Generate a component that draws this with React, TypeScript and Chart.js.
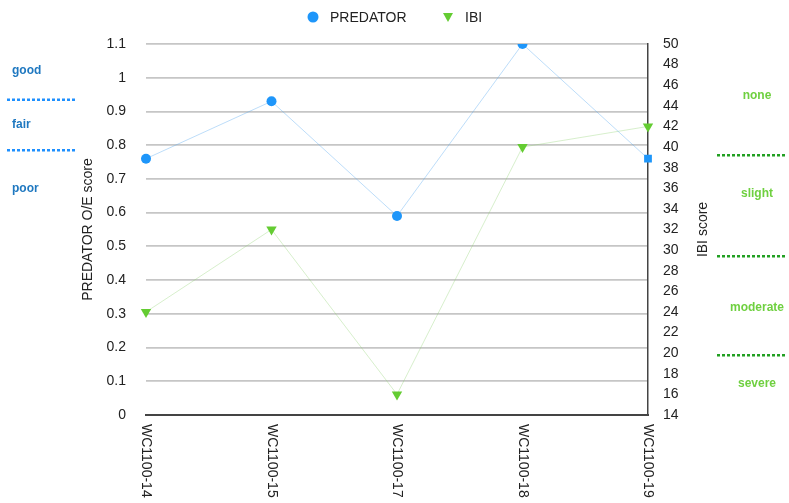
import React, { useEffect, useRef } from "react";
import { Chart, registerables } from "chart.js";

Chart.register(...registerables);

const categories = ["WC1100-14", "WC1100-15", "WC1100-17", "WC1100-18", "WC1100-19"];
const predatorScores = [0.76, 0.93, 0.59, 1.1, 0.76];
const ibiScores = [24, 32, 16, 40, 42];
const predatorBands = ["good", "fair", "poor"];
const ibiBands = ["none", "slight", "moderate", "severe"];

const FONT = "'Liberation Sans', Arial, Helvetica, sans-serif";
const BLUE = "rgb(30,150,250)";
const GREEN = "rgb(100,204,50)";

const overlayPlugin = {
  id: "overlay",
  afterDraw(chart: any) {
    const { ctx } = chart;
    const y = chart.scales.y;
    const y1 = chart.scales.y1;
    const x = chart.scales.x;
    ctx.save();

    // Legend
    ctx.font = `14px ${FONT}`;
    ctx.textBaseline = "middle";
    ctx.textAlign = "left";
    ctx.beginPath();
    ctx.arc(313, 17, 5.5, 0, Math.PI * 2);
    ctx.fillStyle = BLUE;
    ctx.fill();
    ctx.fillStyle = "#222";
    ctx.fillText("PREDATOR", 330, 18);
    ctx.beginPath();
    ctx.moveTo(443, 13);
    ctx.lineTo(453, 13);
    ctx.lineTo(448, 22);
    ctx.closePath();
    ctx.fillStyle = GREEN;
    ctx.fill();
    ctx.fillStyle = "#222";
    ctx.fillText("IBI", 465, 18);

    // X labels rotated clockwise
    ctx.font = `14px ${FONT}`;
    ctx.fillStyle = "#222";
    categories.forEach((c, i) => {
      const px = x.getPixelForValue(i);
      ctx.save();
      ctx.translate(px, 424);
      ctx.rotate(Math.PI / 2);
      ctx.textAlign = "left";
      ctx.textBaseline = "middle";
      ctx.fillText(c, 0, 0);
      ctx.restore();
    });

    // Right axis title
    ctx.save();
    ctx.translate(703, (chart.chartArea.top + chart.chartArea.bottom) / 2);
    ctx.rotate(-Math.PI / 2);
    ctx.textAlign = "center";
    ctx.textBaseline = "middle";
    ctx.fillStyle = "#222";
    ctx.fillText("IBI score", 0, 0);
    ctx.restore();

    // Left condition bands
    const leftLabelVals = [1.02, 0.86, 0.67];
    const leftLineVals = [0.935, 0.785];
    ctx.font = `bold 12px ${FONT}`;
    ctx.fillStyle = "#1f78c0";
    ctx.textAlign = "left";
    ctx.textBaseline = "middle";
    predatorBands.forEach((b, i) => {
      ctx.fillText(b, 12, y.getPixelForValue(leftLabelVals[i]));
    });
    ctx.strokeStyle = "#1e90ff";
    ctx.lineWidth = 2.5;
    ctx.setLineDash([3, 2]);
    leftLineVals.forEach((v) => {
      const py = y.getPixelForValue(v);
      ctx.beginPath();
      ctx.moveTo(7, py);
      ctx.lineTo(75, py);
      ctx.stroke();
    });

    // Right condition bands
    const rightLabelVals = [45, 35.5, 24.4, 17];
    const rightLineVals = [39.2, 29.4, 19.8];
    ctx.setLineDash([]);
    ctx.font = `bold 12px ${FONT}`;
    ctx.fillStyle = "#6fd040";
    ctx.textAlign = "center";
    ibiBands.forEach((b, i) => {
      ctx.fillText(b, 757, y1.getPixelForValue(rightLabelVals[i]));
    });
    ctx.strokeStyle = "#22a022";
    ctx.lineWidth = 2.5;
    ctx.setLineDash([3, 2]);
    rightLineVals.forEach((v) => {
      const py = y1.getPixelForValue(v);
      ctx.beginPath();
      ctx.moveTo(717, py);
      ctx.lineTo(787, py);
      ctx.stroke();
    });

    ctx.restore();
  },
};

export default function App() {
  const ref = useRef<HTMLCanvasElement | null>(null);

  useEffect(() => {
    if (!ref.current) return;
    const chart = new Chart(ref.current, {
      type: "line",
      data: {
        labels: categories,
        datasets: [
          {
            label: "PREDATOR",
            data: predatorScores,
            yAxisID: "y",
            borderColor: "rgba(90,170,240,0.4)",
            borderWidth: 1,
            backgroundColor: BLUE,
            pointBackgroundColor: BLUE,
            pointBorderColor: BLUE,
            pointStyle: ["circle", "circle", "circle", "circle", "rect"],
            pointRadius: [5, 5, 5, 5, 5.5],
            pointBorderWidth: 0,
            tension: 0,
          },
          {
            label: "IBI",
            data: ibiScores,
            yAxisID: "y1",
            borderColor: "rgba(140,210,110,0.35)",
            borderWidth: 1,
            backgroundColor: GREEN,
            pointBackgroundColor: GREEN,
            pointBorderColor: GREEN,
            pointStyle: "triangle",
            pointRotation: 180,
            pointRadius: 6,
            pointBorderWidth: 0,
            tension: 0,
          },
        ],
      },
      options: {
        animation: false,
        responsive: true,
        maintainAspectRatio: false,
        layout: { padding: { top: 44, left: 76, right: 0, bottom: 0 } },
        plugins: {
          legend: { display: false },
          tooltip: { enabled: false },
        },
        scales: {
          x: {
            type: "category",
            offset: false,
            grid: { display: false, drawTicks: false },
            border: { display: true, color: "#444", width: 2 },
            ticks: { display: false },
            afterFit: (s: any) => {
              s.height = 88;
            },
          },
          y: {
            position: "left",
            min: 0,
            max: 1.1,
            grid: { color: "#c6c6c6", lineWidth: 1.8, drawTicks: false },
            border: { display: false },
            ticks: {
              stepSize: 0.1,
              padding: 20,
              color: "#222",
              font: { family: FONT, size: 14 },
              callback: (v: any) => String(Number(Number(v).toFixed(2))),
            },
            title: {
              display: true,
              text: "PREDATOR O/E score",
              color: "#222",
              font: { family: FONT, size: 14 },
            },
            afterFit: (s: any) => {
              s.width = 70;
            },
          },
          y1: {
            position: "right",
            min: 14,
            max: 50,
            grid: { display: false, drawTicks: false },
            border: { display: true, color: "#444", width: 1.5 },
            ticks: {
              stepSize: 2,
              padding: 15,
              color: "#222",
              font: { family: FONT, size: 14 },
            },
            afterFit: (s: any) => {
              s.width = 141;
            },
          },
        },
      },
      plugins: [overlayPlugin],
    });
    return () => chart.destroy();
  }, []);

  return (
    <div style={{ position: "absolute", left: 0, top: 0, width: 789, height: 503 }}>
      <canvas ref={ref} />
    </div>
  );
}
